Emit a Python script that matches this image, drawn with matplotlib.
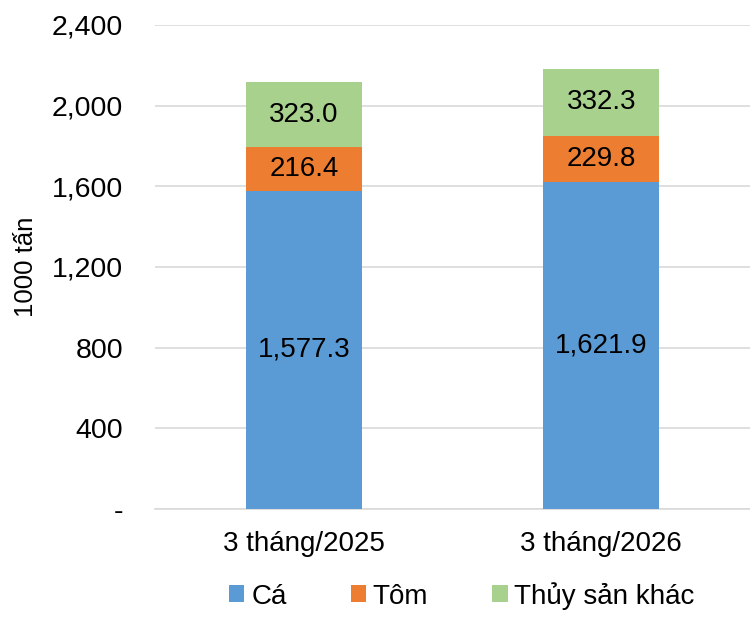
import matplotlib
matplotlib.use("Agg")
import matplotlib.pyplot as plt
from matplotlib.ticker import FuncFormatter

plt.rcParams['font.family'] = ['Liberation Sans', 'DejaVu Sans']

# data (1000 tấn)
categories = ["3 tháng/2025", "3 tháng/2026"]
series_names = ["Cá", "Tôm", "Thủy sản khác"]
ca = [1577.3, 1621.9]
tom = [216.4, 229.8]
khac = [323.0, 332.3]
colors = ["#5B9BD5", "#ED7D31", "#A9D18E"]

fig = plt.figure(figsize=(7.5, 6.25), dpi=100)
ax = fig.add_axes([0.207, 0.186, 0.793, 0.774])

x = list(range(len(categories)))
w = 0.39
bottom = [0, 0]
for name, vals, c in zip(series_names, [ca, tom, khac], colors):
    bars = ax.bar(x, vals, w, bottom=bottom, color=c, label=name, zorder=3)
    for b, v, b0 in zip(bars, vals, bottom):
        ax.text(b.get_x() + b.get_width() / 2, b0 + v / 2, f"{v:,.1f}",
                ha='center', va='center', fontsize=20, color='black', zorder=4)
    bottom = [b0 + v for b0, v in zip(bottom, vals)]

ax.set_xlim(-0.5, 1.5)
ax.set_ylim(0, 2400)
ax.set_yticks(range(0, 2401, 400))
ax.yaxis.set_major_formatter(FuncFormatter(lambda v, p: "-" if v == 0 else f"{v:,.0f}"))
ax.set_xticks(x)
ax.set_xticklabels(categories)
ax.tick_params(axis='y', length=0, pad=23, labelsize=20.5)
ax.tick_params(axis='x', length=0, pad=16, labelsize=20)
ax.grid(axis='y', color='#D9D9D9', linewidth=1.2, zorder=0)
for s in ['top', 'right', 'left']:
    ax.spines[s].set_visible(False)
ax.spines['bottom'].set_color('#D9D9D9')
ax.spines['bottom'].set_linewidth(1.2)

ax.set_ylabel("1000 tấn", fontsize=18.5)
ax.yaxis.set_label_coords(-0.197, 0.5)

fig.legend(loc='center', bbox_to_anchor=(0.616, 0.047), ncol=3, frameon=False,
           fontsize=20, handlelength=0.55, handleheight=0.55,
           handletextpad=0.25, columnspacing=2.3)

fig.savefig("out.png", dpi=100)
